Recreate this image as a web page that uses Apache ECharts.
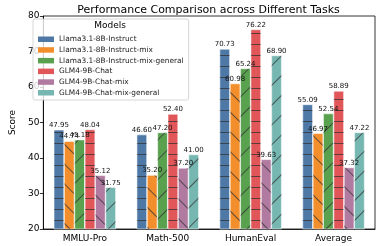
<!DOCTYPE html>
<html><head><meta charset="utf-8">
<script src="https://cdn.jsdelivr.net/npm/echarts@6/dist/echarts.min.js"></script>
<style>html,body{margin:0;padding:0;background:#fff}#c{width:381px;height:246px}</style>
</head><body><div id="c"></div>
<script>
const categories = ['MMLU-Pro', 'Math-500', 'HumanEval', 'Average'];
const seriesNames = ['Llama3.1-8B-Instruct', 'Llama3.1-8B-Instruct-mix', 'Llama3.1-8B-Instruct-mix-general', 'GLM4-9B-Chat', 'GLM4-9B-Chat-mix', 'GLM4-9B-Chat-mix-general'];
const llamaInstruct = [47.95, 46.60, 70.73, 55.09];
const llamaMix = [44.74, 35.20, 60.98, 46.97];
const llamaMixGeneral = [45.18, 47.20, 65.24, 52.54];
const glmChat = [48.04, 52.40, 76.22, 58.89];
const glmMix = [35.12, 37.20, 39.63, 37.32];
const glmMixGeneral = [31.75, 41.00, 68.90, 47.22];
const yTicks = [20, 30, 40, 50, 60, 70, 80];

const values = [llamaInstruct, llamaMix, llamaMixGeneral, glmChat, glmMix, glmMixGeneral];
const colors = ['#4e79a7', '#f28e2b', '#59a14f', '#e15759', '#b07aa1', '#76b7b2'];
const hatchColor = 'rgba(50,50,50,0.75)';
const hHatch = {symbol:'rect', symbolSize:1, color:hatchColor, dashArrayX:[[1,0]], dashArrayY:[1,9.9], rotation:0};
const bsHatch = {symbol:'rect', symbolSize:1, color:hatchColor, dashArrayX:[[1,0]], dashArrayY:[1,12.2], rotation:Math.PI/4};
const fsHatch = {symbol:'rect', symbolSize:1, color:hatchColor, dashArrayX:[[1,0]], dashArrayY:[1,12.2], rotation:-Math.PI/4};
const hatches = [hHatch, bsHatch, fsHatch, hHatch, bsHatch, fsHatch];
const FONT = 'DejaVu Sans';

const chart = echarts.init(document.getElementById('c'), null, {renderer:'canvas'});
chart.setOption({
  animation:false,
  aria:{enabled:false},
  textStyle:{fontFamily:FONT},
  title:{text:'Performance Comparison across Different Tasks', left:203.5, textAlign:'center', top:0,
    textStyle:{fontSize:11, fontWeight:'normal', color:'#000', fontFamily:FONT}},
  grid:{left:32, right:6, top:16, bottom:17, show:true, borderColor:'#000', borderWidth:0.8, backgroundColor:'transparent'},
  legend:{
    orient:'vertical', left:33, top:19, padding:[16, 5, 3, 5], icon:'rect', itemWidth:16, itemHeight:5.5, itemGap:2.2,
    backgroundColor:'rgba(255,255,255,0.8)', borderColor:'#cccccc', borderWidth:0.8, borderRadius:2,
    textStyle:{fontSize:7.4, color:'#222', fontFamily:FONT, lineHeight:8.5},
    data: seriesNames.map((n,i)=>({name:n, itemStyle:{color:colors[i], decal:'none', borderWidth:0}}))
  },
  xAxis:{type:'category', data:categories,
    axisLine:{lineStyle:{color:'#000', width:0.8}},
    axisTick:{alignWithLabel:true, length:3.5, lineStyle:{color:'#000', width:0.8}},
    axisLabel:{fontSize:9, color:'#000', margin:5, fontFamily:FONT}},
  yAxis:{type:'value', min:yTicks[0], max:yTicks[yTicks.length-1], interval:10,
    name:'Score', nameLocation:'middle', nameGap:17, nameRotate:90,
    nameTextStyle:{fontSize:9, color:'#000', fontFamily:FONT},
    splitLine:{show:false},
    axisLine:{show:true, lineStyle:{color:'#000', width:0.8}},
    axisTick:{show:true, length:3.5, lineStyle:{color:'#000', width:0.8}},
    axisLabel:{fontSize:9, color:'#000', margin:4, fontFamily:FONT}},
  series: values.map((v,i)=>({
    name:seriesNames[i], type:'bar', data:v, barGap:'0%', barCategoryGap:'25%',
    itemStyle:{color:colors[i], borderColor:'rgba(255,255,255,0.5)', borderWidth:0.6, decal:hatches[i]},
    label:{show:true, position:'top', distance:1, fontSize:7, color:'#111', fontFamily:FONT,
      formatter:p=>p.value.toFixed(2)}
  })),
  graphic:[
    {type:'text', x:110, y:21, z:10,
      style:{text:'Models', fontSize:9, fill:'#000', fontFamily:FONT, textAlign:'center'}}
  ]
});
</script></body></html>
